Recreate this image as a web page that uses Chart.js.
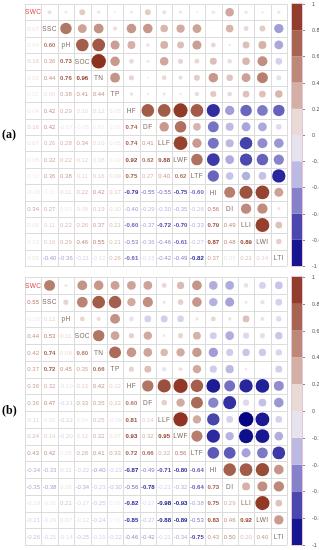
<!DOCTYPE html>
<html lang="en">
<head>
<meta charset="UTF-8">
<title>Correlation matrices (a) and (b)</title>
<script src="https://cdn.jsdelivr.net/npm/chart.js"></script>
<style>
  html, body { margin: 0; padding: 0; background: #fff; }
  canvas { display: block; }
</style>
</head>
<body>
<canvas id="chartA" width="319" height="271"></canvas>
<canvas id="chartB" width="319" height="279"></canvas>
<script>
  // variable names (diagonal)
  const vars = ['SWC', 'SSC', 'pH', 'SOC', 'TN', 'TP', 'HF', 'DF', 'LLF', 'LWF', 'LTF', 'HI', 'DI', 'LLI', 'LWI', 'LTI'];

  // lower triangle, row i holds r with columns 0..i-1 (panel a)
  const corrA = [
    [],
    [0.07],
    [0.04, 0.60],
    [0.16, 0.36, 0.73],
    [0.05, 0.44, 0.76, 0.96],
    [0.02, 0.08, 0.38, 0.41, 0.44],
    [0.04, 0.42, 0.29, 0.10, 0.12, 0.06],
    [0.16, 0.42, -0.07, -0.05, 0.02, 0.03, 0.74],
    [0.07, 0.26, 0.28, 0.34, 0.10, 0.05, 0.74, 0.41],
    [0.05, 0.32, 0.22, 0.12, 0.08, 0.03, 0.92, 0.62, 0.88],
    [0.02, 0.36, 0.38, 0.11, 0.16, 0.09, 0.75, 0.27, 0.40, 0.62],
    [-0.06, 0.01, 0.11, 0.22, 0.42, 0.17, -0.79, -0.55, -0.55, -0.75, -0.60],
    [0.34, 0.27, 0.03, 0.09, 0.19, 0.10, -0.40, -0.29, -0.30, -0.35, -0.26, 0.56],
    [0.05, 0.11, 0.22, 0.26, 0.37, 0.21, -0.60, -0.37, -0.72, -0.70, -0.33, 0.79, 0.49],
    [0.03, 0.16, 0.29, 0.46, 0.55, 0.21, -0.53, -0.36, -0.46, -0.61, -0.27, 0.87, 0.48, 0.89],
    [0.05, -0.40, -0.36, -0.21, -0.12, 0.26, -0.61, -0.15, -0.42, -0.49, -0.82, 0.37, 0.05, 0.21, 0.14]
  ];

  // lower triangle (panel b)
  const corrB = [
    [],
    [0.55],
    [-0.05, 0.12],
    [0.44, 0.53, 0.11],
    [0.42, 0.74, 0.08, 0.60],
    [0.37, 0.72, 0.45, 0.35, 0.66],
    [0.36, 0.32, -0.10, 0.13, 0.42, 0.12],
    [0.36, 0.47, -0.21, 0.33, 0.35, 0.22, 0.60],
    [0.11, 0.05, -0.22, 0.04, 0.25, -0.09, 0.81, 0.14],
    [0.24, 0.14, -0.20, 0.12, 0.32, 0.07, 0.93, 0.32, 0.95],
    [0.43, 0.42, 0.05, 0.28, 0.41, 0.33, 0.72, 0.66, 0.32, 0.56],
    [-0.34, -0.33, 0.11, -0.22, -0.40, -0.23, -0.87, -0.49, -0.71, -0.80, -0.64],
    [-0.35, -0.38, 0.06, -0.34, -0.23, -0.30, -0.56, -0.78, -0.21, -0.32, -0.64, 0.73],
    [-0.10, -0.05, 0.21, -0.17, -0.25, 0.03, -0.82, -0.17, -0.98, -0.93, -0.38, 0.75, 0.29],
    [-0.21, -0.09, 0.07, -0.12, -0.24, 0.01, -0.85, -0.27, -0.88, -0.89, -0.53, 0.83, 0.46, 0.92],
    [-0.26, -0.21, -0.14, -0.25, -0.19, -0.22, -0.46, -0.42, -0.21, -0.34, -0.75, 0.43, 0.50, 0.20, 0.40]
  ];

  const barTicks = [1, 0.8, 0.6, 0.4, 0.2, 0, -0.2, -0.4, -0.6, -0.8, -1];

  // colour ramp, -1 (navy) .. 0 (near white) .. 1 (red brown)
  const ramp = [
    [-1.0, [0, 0, 128]], [-0.8, [45, 42, 160]], [-0.6, [105, 101, 188]], [-0.4, [160, 157, 215]],
    [-0.2, [215, 213, 238]], [0.0, [245, 240, 240]], [0.2, [222, 195, 188]], [0.4, [201, 155, 143]],
    [0.6, [178, 118, 100]], [0.8, [155, 82, 62]], [1.0, [139, 42, 25]]
  ];
  function colorOf(v) {
    v = Math.max(-1, Math.min(1, v));
    for (let k = 0; k < ramp.length - 1; k++) {
      const [v0, c0] = ramp[k], [v1, c1] = ramp[k + 1];
      if (v >= v0 && v <= v1) {
        const t = (v - v0) / (v1 - v0);
        const c = c0.map((a, n) => Math.round(a + (c1[n] - a) * t));
        return `rgb(${c[0]},${c[1]},${c[2]})`;
      }
    }
    return 'rgb(245,240,240)';
  }

  function upperPoints(rows) {
    const pts = [];
    rows.forEach((row, i) => row.forEach((v, j) => pts.push({ x: i + 0.5, y: j + 0.5, v: v })));
    return pts;
  }

  const corrPlugin = {
    id: 'corrPlugin',
    beforeDatasetsDraw(chart, args, opts) {
      const { ctx, chartArea: a, scales: { x, y } } = chart;
      const n = vars.length;
      ctx.save();
      ctx.fillStyle = '#fff';
      ctx.fillRect(a.left, a.top, a.right - a.left, a.bottom - a.top);
      ctx.strokeStyle = '#dcdcdc';
      ctx.lineWidth = 1;
      for (let k = 0; k <= n; k++) {
        const px = Math.round(x.getPixelForValue(k)) + 0.5;
        const py = Math.round(y.getPixelForValue(k)) + 0.5;
        ctx.beginPath(); ctx.moveTo(px, a.top); ctx.lineTo(px, a.bottom); ctx.stroke();
        ctx.beginPath(); ctx.moveTo(a.left, py); ctx.lineTo(a.right, py); ctx.stroke();
      }
      ctx.textAlign = 'center';
      ctx.textBaseline = 'middle';
      opts.rows.forEach((row, i) => row.forEach((v, j) => {
        ctx.font = (Math.abs(v) >= 0.6 ? 'bold ' : '') + '6px "Liberation Sans", Arial, sans-serif';
        ctx.fillStyle = colorOf(v);
        ctx.fillText(v.toFixed(2), x.getPixelForValue(j + 0.5), y.getPixelForValue(i + 0.5) + 0.5);
      }));
      ctx.font = '6.5px "Liberation Sans", Arial, sans-serif';
      ctx.letterSpacing = '0.4px';
      vars.forEach((name, i) => {
        ctx.fillStyle = i === 0 ? '#e04a45' : '#7d6a5e';
        ctx.fillText(name, x.getPixelForValue(i + 0.5), y.getPixelForValue(i + 0.5) + 0.5);
      });
      ctx.restore();
    },
    afterDraw(chart, args, opts) {
      const { ctx, chartArea: a, scales: { cb } } = chart;
      const x0 = a.right + 5, w = 10;
      ctx.save();
      for (let k = 0; k < 10; k++) {
        const lo = -1 + k * 0.2, hi = lo + 0.2;
        const yTop = cb.getPixelForValue(hi), yBot = cb.getPixelForValue(lo);
        ctx.fillStyle = colorOf((lo + hi) / 2);
        ctx.fillRect(x0, yTop, w, yBot - yTop);
      }
      ctx.strokeStyle = '#e6c6d6';
      ctx.lineWidth = 1;
      ctx.strokeRect(x0 - 0.5, cb.getPixelForValue(1) - 0.5, w + 1, cb.getPixelForValue(-1) - cb.getPixelForValue(1) + 1);
      ctx.font = '5.5px "Liberation Sans", Arial, sans-serif';
      ctx.textAlign = 'left';
      ctx.textBaseline = 'middle';
      barTicks.forEach(t => {
        const py = Math.round(cb.getPixelForValue(t)) + 0.5;
        ctx.strokeStyle = '#888';
        ctx.beginPath(); ctx.moveTo(x0 + w + 1, py); ctx.lineTo(x0 + w + 3, py); ctx.stroke();
        ctx.fillStyle = '#555';
        ctx.fillText(String(t), a.right + 25, py);
      });
      ctx.font = 'bold 12px "Liberation Serif", "Times New Roman", serif';
      ctx.fillStyle = '#000';
      ctx.fillText(opts.tag, 2, (a.top + a.bottom) / 2);
      ctx.restore();
    }
  };

  function makeChart(id, rows, tag, pad) {
    return new Chart(document.getElementById(id), {
      type: 'scatter',
      data: {
        datasets: [{
          data: upperPoints(rows),
          pointRadius: c => {
            const s = c.chart.scales.x;
            const cell = s.getPixelForValue(1) - s.getPixelForValue(0);
            return cell / 2 * 0.9 * Math.sqrt(Math.abs(c.raw.v));
          },
          pointBackgroundColor: c => colorOf(c.raw.v),
          pointBorderWidth: 0,
          pointHoverRadius: 0
        }]
      },
      options: {
        responsive: false,
        devicePixelRatio: 1,
        animation: false,
        events: [],
        layout: { padding: pad },
        scales: {
          x: { type: 'linear', min: 0, max: 16, display: false },
          y: { type: 'linear', min: 0, max: 16, reverse: true, display: false },
          cb: { type: 'linear', axis: 'y', min: -1, max: 1, display: false }
        },
        plugins: {
          legend: { display: false },
          tooltip: { enabled: false },
          corrPlugin: { rows: rows, tag: tag }
        }
      },
      plugins: [corrPlugin]
    });
  }

  makeChart('chartA', corrA, '(a)', { left: 25, right: 32, top: 4, bottom: 5 });
  makeChart('chartB', corrB, '(b)', { left: 25, right: 32, top: 6, bottom: 5 });
</script>
</body>
</html>
